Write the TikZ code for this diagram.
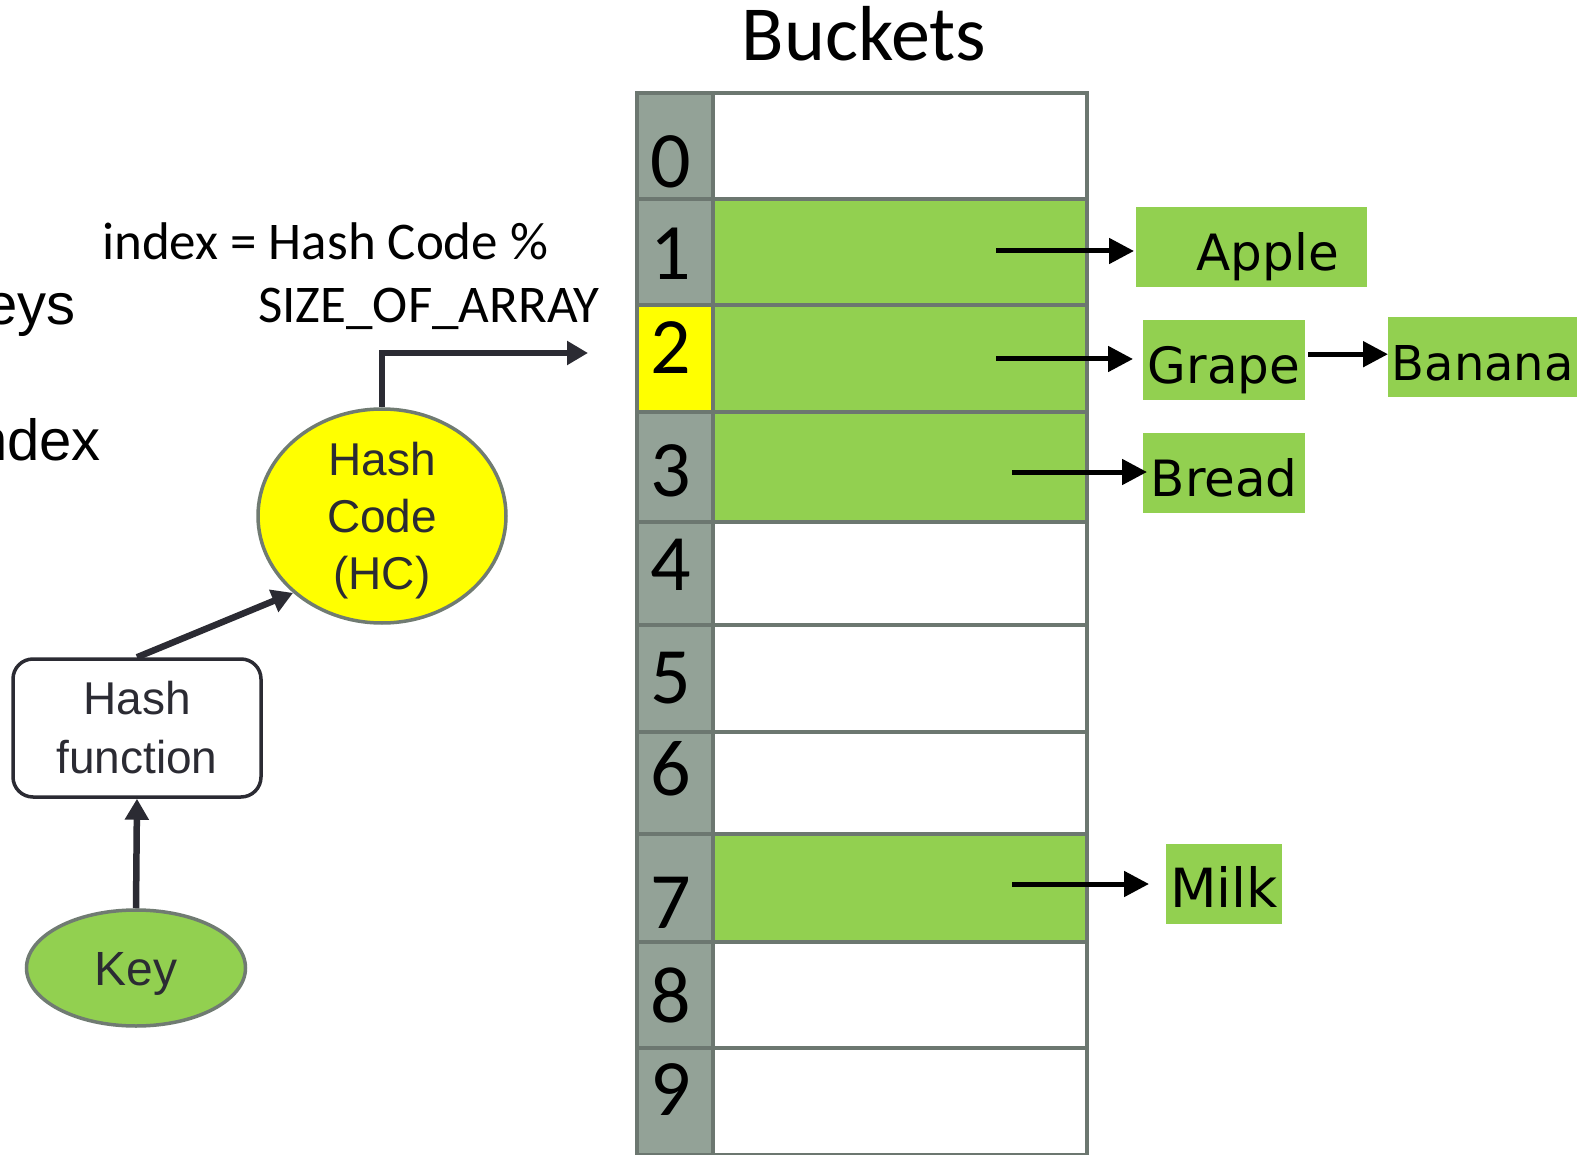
\documentclass[tikz,border=0pt]{standalone}
\usepackage{fontspec}
\setmainfont{Carlito}
\newfontfamily\arialfont{Liberation Sans}
\newfontfamily\handfont{DejaVu Sans}
\usetikzlibrary{arrows.meta,shapes.geometric}

\definecolor{idxgrey}{HTML}{93A297}
\definecolor{gridline}{HTML}{6C7770}
\definecolor{slotgreen}{HTML}{92D050}
\definecolor{ink}{HTML}{2B2B33}
\definecolor{ringgrey}{HTML}{707B72}
\definecolor{markyellow}{HTML}{FFFF00}

\tikzset{
  idxcell/.style={draw=gridline, line width=4pt, fill=idxgrey, inner sep=0pt,
    anchor=north west, minimum width=76pt},
  slot/.style={draw=gridline, line width=4pt, inner sep=0pt,
    anchor=north west, minimum width=374pt},
  digit/.style={font=\fontsize{80}{80}\selectfont, anchor=base, inner sep=0pt},
  fruit/.style={fill=slotgreen, inner sep=0pt, anchor=north west,
    minimum height=80pt, text height=46pt, text depth=0pt,
    font=\handfont\fontsize{50}{50}\selectfont},
  ptr/.style={-{Triangle[length=25pt,width=25pt]}, line width=5pt, draw=black},
  flow/.style={-{Triangle[length=21pt,width=23pt]}, line width=6.5pt, draw=ink},
  ring/.style={ellipse, draw=ringgrey, line width=3.5pt, inner sep=0pt},
  plain/.style={inner sep=0pt}
}

\begin{document}
\begin{tikzpicture}[x=1pt,y=-1pt]
\useasboundingbox (0,0) rectangle (1585,1155);
\clip (0,0) rectangle (1585,1155);

% bucket array: index column, slot column, index digits
\foreach \i/\t/\b/\f/\g/\bl in {
  0/91/197/white/idxgrey/188,
  1/197/303/slotgreen/idxgrey/280,
  2/303/410/slotgreen/markyellow/374,
  3/410/520/slotgreen/idxgrey/496,
  4/520/623/white/idxgrey/590,
  5/623/730/white/idxgrey/703,
  6/730/832/white/idxgrey/795,
  7/832/940/slotgreen/idxgrey/928,
  8/940/1046/white/idxgrey/1022,
  9/1046/1153/white/idxgrey/1115}{
  \node[idxcell, fill=\g, minimum height={(\b-\t)*1pt}] (i\i) at (635,\t) {};
  \node[slot, fill=\f, minimum height={(\b-\t)*1pt}] (b\i) at (711,\t) {};
  \node[digit] (d\i) at (671,\bl) {\i};
}

\node[plain, anchor=base, font=\fontsize{78}{78}\selectfont] (title) at (864,61) {Buckets};

% chained entries
\node[fruit, minimum width=231pt] (apple) at (1136,207) {\hspace*{32pt}Apple};
\node[fruit, minimum width=162pt] (grape) at (1143,320) {Grape};
\node[fruit, minimum width=189pt, font=\handfont\fontsize{48}{48}\selectfont] (banana) at (1388,317) {Banana};
\node[fruit, minimum width=162pt] (bread) at (1143,433) {Bread};
\node[fruit, minimum width=116pt, font=\handfont\fontsize{54}{54}\selectfont] (milk) at (1166,844) {Milk};

\coordinate (s1) at (996,251);
\coordinate (s2) at (996,359);
\coordinate (s3) at (1012,472);
\coordinate (s7) at (1012,884);
\draw[ptr, shorten >=2pt] (s1) -- (s1 -| apple.west);
\draw[ptr, shorten >=10pt] (s2) -- (s2 -| grape.west);
\draw[ptr] (s3) -- ([xshift=4pt]s3 -| bread.west);
\draw[ptr, shorten >=17pt] (s7) -- (s7 -| milk.west);
\draw[ptr, shorten <=3pt] ([yshift=6pt]grape.east) -- ([yshift=6pt]grape.east -| banana.west);

% hashing pipeline
\node[ring, fill=markyellow, minimum width=248pt, minimum height=214pt] (hc) at (382,516) {};
\node[plain, font=\arialfont\fontsize{46}{57}\selectfont, text=ink, align=center]
  (hctext) at ([yshift=-5pt]hc.center) {Hash\\Code\\(HC)};
\node[draw=ink, line width=3.5pt, rounded corners=20pt, minimum width=248pt,
  minimum height=138pt, align=center, text=ink, inner sep=0pt,
  font=\arialfont\fontsize{46}{59}\selectfont] (hf) at (137,728) {Hash\\function};
\node[ring, fill=slotgreen, minimum width=219pt, minimum height=116pt, text=ink,
  text height=34pt, text depth=0pt,
  font=\arialfont\fontsize{48}{48}\selectfont] (key) at (136,968) {Key};

\coordinate (slotin) at (588,353);
\draw[flow] (key.north) -- (hf.south);
\draw[flow] (hf.north) -- (hc.south west);
\draw[flow] (hc.north) |- (slotin);

\node[plain, anchor=base west, font=\fontsize{53}{53}\selectfont] (formula) at (102,260) {index = Hash Code \%};
\node[plain, anchor=base west, font=\fontsize{53}{53}\selectfont] (divisor) at (258,323) {SIZE\_OF\_ARRAY};

\node[plain, anchor=base east, font=\arialfont\fontsize{58}{58}\selectfont] (keysword) at (76,325) {eys};
\node[plain, anchor=base east, font=\arialfont\fontsize{58}{58}\selectfont] (indexword) at (101,460) {ndex};
\end{tikzpicture}
\end{document}
